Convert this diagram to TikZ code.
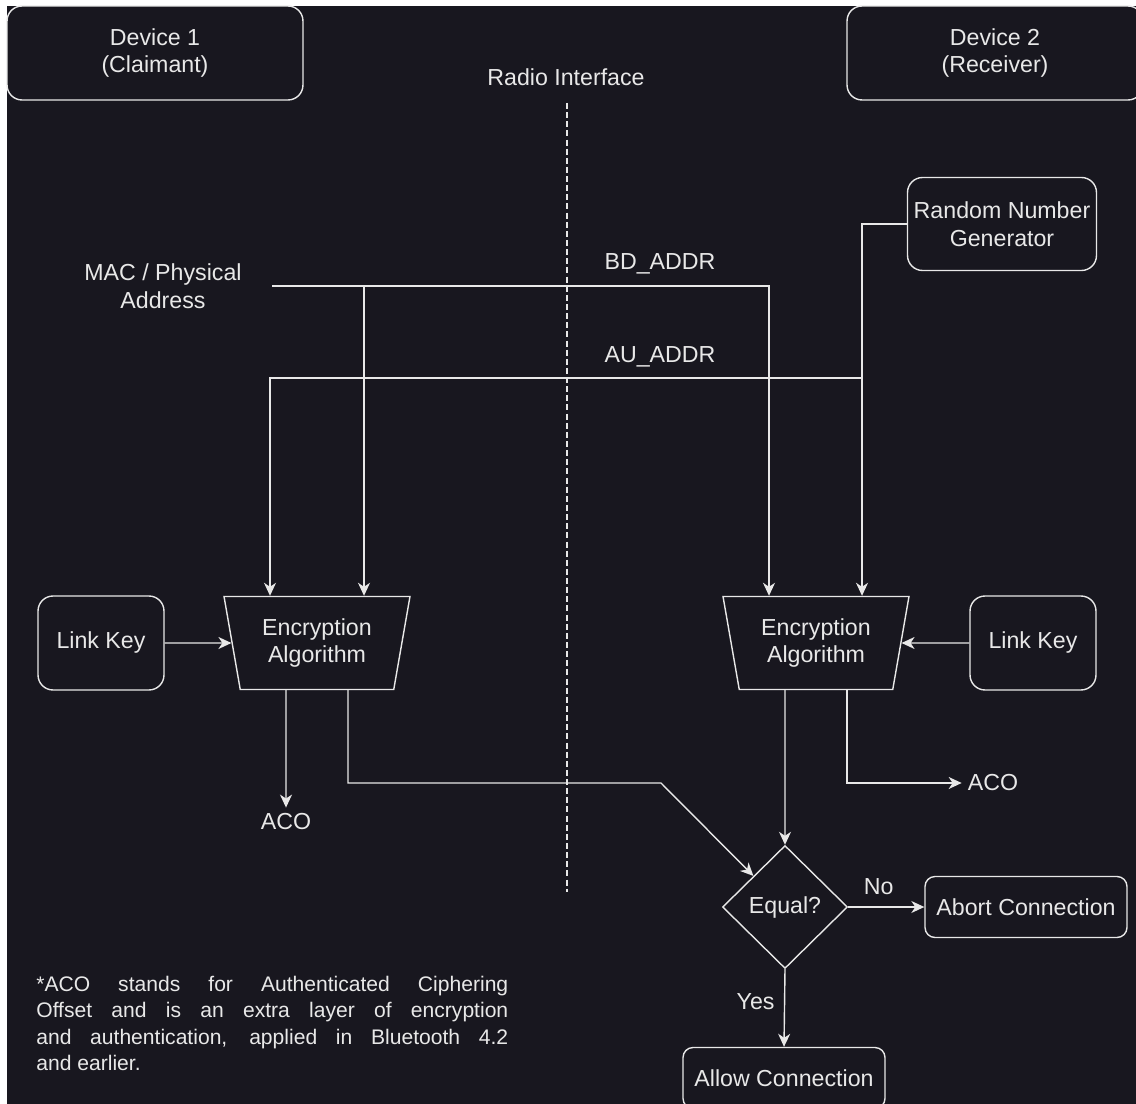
\documentclass[tikz,border=0pt]{standalone}
\usepackage{fontspec}
\setmainfont{Liberation Sans}
\usetikzlibrary{shapes.geometric,arrows.meta,calc}
\definecolor{bgdark}{RGB}{24,23,31}
\definecolor{fgline}{RGB}{232,232,232}

\begin{document}
\begin{tikzpicture}[x=0.02cm,y=-0.02cm,
    every node/.style={text=fgline,font=\fontsize{13.2pt}{15.8pt}\selectfont},
    roundbox/.style={draw=fgline,line width=0.8pt,rounded corners=0.3cm,align=center,inner sep=0pt},
    devbox/.style={roundbox,minimum width=5.92cm,minimum height=1.88cm},
    keybox/.style={roundbox,minimum width=2.52cm,minimum height=1.88cm},
    rngbox/.style={roundbox,minimum width=3.78cm,minimum height=1.86cm},
    endbox/.style={roundbox,rounded corners=0.2cm,minimum width=4.04cm,minimum height=1.22cm},
    encbox/.style={draw=fgline,line width=0.8pt,shape=trapezium,trapezium angle=71.8,
        shape border rotate=180,trapezium stretches body,minimum width=3.72cm,
        minimum height=1.86cm,inner sep=0pt,align=center},
    decision/.style={draw=fgline,line width=0.8pt,shape=diamond,minimum width=2.5cm,
        minimum height=2.46cm,inner sep=0pt},
    flow/.style={draw=fgline,line width=0.8pt,-{Stealth[length=2.6mm,width=2.4mm,inset=0.8mm]}},
    wire/.style={draw=fgline,line width=0.8pt},
    radioline/.style={draw=fgline,line width=0.8pt,dash pattern=on 3.4pt off 1.8pt}]

    \useasboundingbox (0,0) rectangle (1136,1104);
    \clip (0,0) rectangle (1136,1104);
    \fill[white] (0,0) rectangle (1136,1104);
    \fill[bgdark] (7,6) rectangle (1136,1104);

    \node[devbox] (dev1) at (155,53) {Device 1\\(Claimant)};
    \node[devbox] (dev2) at (995,53) {Device 2\\(Receiver)};
    \node (radio) at (566,77) {Radio Interface};
    \coordinate (radiotop) at (567,103);
    \coordinate (radiobot) at (567,892);
    \draw[radioline] (radiotop) -- (radiobot);

    \node[rngbox] (rng) at (1002,224) {Random Number\\Generator};
    \node[align=center] (mac) at (163,286) {MAC / Physical\\Address};
    \coordinate (macout) at (272,286);
    \coordinate (aulevel) at (566,378);

    \node[encbox] (enc1) at (317,643) {Encryption\\Algorithm};
    \node[encbox] (enc2) at (816,643) {Encryption\\Algorithm};
    \node[keybox] (lk1) at (101,643) {Link Key};
    \node[keybox] (lk2) at (1033,643) {Link Key};

    \coordinate (e1a) at ($(enc1.north)+(-47,0)$);
    \coordinate (e1b) at ($(enc1.north)+(47,0)$);
    \coordinate (e2a) at ($(enc2.north)+(-47,0)$);
    \coordinate (e2b) at ($(enc2.north)+(46,0)$);
    \coordinate (e1c) at ($(enc1.south)+(-31,0)$);
    \coordinate (e1d) at ($(enc1.south)+(31,0)$);
    \coordinate (e2c) at ($(enc2.south)+(-31,0)$);
    \coordinate (e2d) at ($(enc2.south)+(31,0)$);

    \node (aco1) at (286,822) {ACO};
    \node (aco2) at (993,783) {ACO};
    \node[decision] (eq) at (785,907) {Equal?};
    \node[endbox] (abort) at (1026,907) {Abort Connection};
    \node[endbox] (allow) at (784,1078) {Allow Connection};
    \coordinate (bend) at (661,783);

    \draw[flow] (macout) -| (e2a);
    \draw[flow] (macout -| e1b) -- (e1b);
    \node at (660,264) {BD\_ADDR};
    \draw[flow] (rng.west) -| (e2b);
    \draw[flow] (e2b |- aulevel) -| (e1a);
    \node at (660,357) {AU\_ADDR};

    \draw[flow] (lk1) -- (enc1);
    \draw[flow] (lk2) -- (enc2);

    \draw[flow] (e1c) -- (aco1);
    \draw[flow] (e1d) |- (bend) -- (eq.north west);
    \draw[flow] (e2c) -- (eq.north);
    \draw[flow] (e2d) |- (aco2);

    \draw[flow] (eq.east) -- node[above,pos=0.4,yshift=3pt]{No} (abort.west);
    \draw[flow] (eq.south) -- node[left,pos=0.42,xshift=-2pt]{Yes} (allow.north);

    \node[anchor=north west,inner sep=0pt,text width=9.44cm,align=justify,
        font=\fontsize{12pt}{15pt}\selectfont] (note) at (36,976)
        {*ACO stands for Authenticated Ciphering\linebreak
        Offset and is an extra layer of encryption\linebreak
        and authentication, applied in Bluetooth 4.2\linebreak
        and earlier.};
\end{tikzpicture}
\end{document}
